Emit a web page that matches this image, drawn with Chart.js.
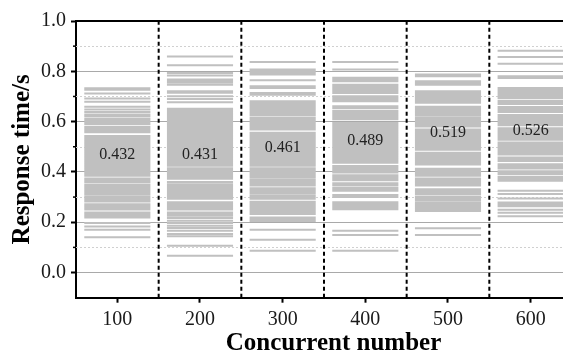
<!DOCTYPE html>
<html><head><meta charset="utf-8">
<script src="https://cdn.jsdelivr.net/npm/chart.js@4"></script>
<style>
html,body{margin:0;padding:0;overflow:hidden;background:#fff;width:563px;height:354px}
#wrap{width:600px;height:354px}
</style></head>
<body><div id="wrap"><canvas id="c" width="600" height="354"></canvas></div>
<script>
const categories = [100, 200, 300, 400, 500, 600];
const meanValues = [0.432, 0.431, 0.461, 0.489, 0.519, 0.526];
const yTicks = [0.0, 0.2, 0.4, 0.6, 0.8, 1.0];
const yMinorTicks = [0.1, 0.3, 0.5, 0.7, 0.9];
const separators = [150, 250, 350, 450, 550];

const times100 = [0.733,0.727,0.712,0.692,0.679,0.659,0.648,0.638,0.628,0.621,0.611,0.604,0.597,0.591,0.580,0.573,0.566,0.558,0.543,0.536,0.529,0.522,0.515,0.508,0.501,0.494,0.487,0.480,0.473,0.466,0.459,0.452,0.445,0.438,0.431,0.424,0.417,0.410,0.403,0.396,0.389,0.385,0.374,0.367,0.360,0.350,0.343,0.339,0.331,0.324,0.317,0.310,0.301,0.294,0.287,0.282,0.272,0.265,0.258,0.251,0.239,0.232,0.225,0.219,0.197,0.183,0.170,0.140];
const times200 = [0.859,0.824,0.793,0.783,0.767,0.761,0.756,0.747,0.721,0.715,0.701,0.690,0.677,0.651,0.644,0.637,0.630,0.623,0.615,0.608,0.601,0.594,0.587,0.580,0.573,0.566,0.562,0.556,0.550,0.543,0.536,0.529,0.522,0.515,0.508,0.501,0.494,0.487,0.480,0.473,0.466,0.459,0.452,0.445,0.438,0.431,0.425,0.415,0.408,0.401,0.394,0.387,0.380,0.373,0.360,0.351,0.344,0.337,0.330,0.326,0.318,0.311,0.304,0.297,0.293,0.279,0.272,0.265,0.258,0.251,0.239,0.232,0.226,0.217,0.206,0.197,0.186,0.177,0.166,0.153,0.144,0.107,0.067];
const times300 = [0.837,0.807,0.800,0.793,0.787,0.764,0.741,0.734,0.714,0.707,0.681,0.674,0.667,0.660,0.653,0.646,0.639,0.632,0.625,0.615,0.608,0.601,0.594,0.587,0.580,0.573,0.569,0.556,0.549,0.542,0.535,0.528,0.521,0.514,0.507,0.500,0.493,0.486,0.479,0.472,0.465,0.458,0.451,0.444,0.437,0.430,0.425,0.415,0.408,0.401,0.394,0.387,0.380,0.371,0.364,0.357,0.350,0.346,0.335,0.328,0.321,0.314,0.305,0.298,0.293,0.281,0.274,0.267,0.259,0.252,0.245,0.238,0.233,0.219,0.212,0.205,0.170,0.130,0.087];
const times400 = [0.837,0.807,0.774,0.767,0.760,0.747,0.740,0.733,0.727,0.721,0.714,0.701,0.694,0.687,0.681,0.661,0.653,0.642,0.635,0.628,0.621,0.614,0.609,0.595,0.588,0.581,0.576,0.569,0.562,0.555,0.548,0.541,0.534,0.527,0.520,0.513,0.506,0.499,0.492,0.485,0.478,0.471,0.464,0.457,0.450,0.443,0.436,0.424,0.417,0.410,0.403,0.398,0.387,0.380,0.373,0.367,0.355,0.348,0.338,0.331,0.325,0.308,0.300,0.279,0.272,0.265,0.258,0.252,0.166,0.149,0.087];
const times500 = [0.787,0.780,0.760,0.753,0.747,0.721,0.714,0.707,0.700,0.693,0.686,0.679,0.675,0.659,0.652,0.645,0.638,0.631,0.624,0.615,0.608,0.601,0.594,0.587,0.581,0.569,0.562,0.555,0.548,0.541,0.534,0.527,0.520,0.513,0.506,0.499,0.492,0.488,0.476,0.469,0.462,0.455,0.448,0.441,0.434,0.430,0.413,0.406,0.399,0.392,0.385,0.374,0.367,0.360,0.353,0.346,0.331,0.324,0.317,0.312,0.302,0.295,0.288,0.279,0.272,0.266,0.259,0.252,0.245,0.176,0.149];
const times600 = [0.882,0.857,0.830,0.780,0.773,0.734,0.727,0.721,0.714,0.707,0.700,0.694,0.683,0.676,0.670,0.658,0.651,0.644,0.638,0.626,0.619,0.612,0.605,0.598,0.591,0.586,0.574,0.567,0.560,0.553,0.546,0.539,0.532,0.528,0.517,0.510,0.503,0.496,0.489,0.482,0.475,0.469,0.457,0.450,0.443,0.431,0.424,0.417,0.414,0.403,0.396,0.392,0.381,0.374,0.367,0.365,0.325,0.312,0.294,0.278,0.271,0.264,0.250,0.238,0.224];

const series = [times100, times200, times300, times400, times500, times600];
const HALF = 40;

Chart.defaults.font.family = "'Liberation Serif', 'Times New Roman', serif";
Chart.defaults.color = '#1a1a1a';

const datasets = categories.map((cat, i) => ({
  type: 'line',
  data: series[i].flatMap(v => [{x: cat - HALF, y: v}, {x: cat + HALF, y: v}, {x: cat, y: null}]),
  borderColor: 'rgb(192,192,192)',
  borderWidth: 2,
  pointRadius: 0,
  spanGaps: false,
  fill: false,
  tension: 0
}));

const decor = {
  id: 'decor',
  beforeDatasetsDraw(chart) {
    const {ctx, chartArea: a, scales: {y}} = chart;
    ctx.save();
    ctx.strokeStyle = '#d0d0d0';
    ctx.lineWidth = 1;
    ctx.setLineDash([2, 2]);
    yMinorTicks.forEach(v => {
      const py = Math.round(y.getPixelForValue(v)) + 0.5;
      ctx.beginPath(); ctx.moveTo(a.left, py); ctx.lineTo(a.right, py); ctx.stroke();
    });
    ctx.restore();
  },
  afterDatasetsDraw(chart) {
    const {ctx, chartArea: a, scales: {x, y}} = chart;
    ctx.save();
    ctx.strokeStyle = '#000';
    ctx.lineWidth = 2;
    ctx.setLineDash([4, 3]);
    separators.forEach(s => {
      const px = x.getPixelForValue(s);
      ctx.beginPath(); ctx.moveTo(px, a.bottom); ctx.lineTo(px, a.top); ctx.stroke();
    });
    ctx.setLineDash([]);
    ctx.fillStyle = '#222';
    ctx.font = "16px 'Liberation Serif'";
    ctx.textAlign = 'center';
    ctx.textBaseline = 'middle';
    categories.forEach((cat, i) => {
      ctx.fillText(meanValues[i].toFixed(3), x.getPixelForValue(cat), y.getPixelForValue(meanValues[i]) - 9);
    });
    ctx.restore();
  },
  afterDraw(chart) {
    const {ctx, chartArea: a, scales: {y}} = chart;
    ctx.save();
    ctx.strokeStyle = '#000';
    ctx.lineWidth = 2;
    ctx.beginPath(); ctx.moveTo(a.left - 1, a.top); ctx.lineTo(a.right, a.top); ctx.stroke();
    ctx.lineWidth = 1.5;
    yMinorTicks.forEach(v => {
      const py = y.getPixelForValue(v);
      ctx.beginPath(); ctx.moveTo(a.left - 3, py); ctx.lineTo(a.left, py); ctx.stroke();
    });
    ctx.restore();
  }
};

new Chart(document.getElementById('c'), {
  type: 'line',
  data: {datasets},
  options: {
    responsive: false,
    animation: false,
    layout: {padding: {top: 21, right: 9, bottom: 0, left: 0}},
    plugins: {legend: {display: false}, tooltip: {enabled: false}},
    scales: {
      x: {
        type: 'linear',
        min: 50, max: 673,
        afterBuildTicks: s => { s.ticks = categories.map(v => ({value: v})); },
        afterFit: s => { s.height = 56.3; },
        ticks: {font: {size: 20}, color: '#1a1a1a', padding: 5, maxRotation: 0, callback: v => String(v)},
        grid: {drawOnChartArea: false, drawTicks: true, tickLength: 5, tickColor: '#000', tickWidth: 2},
        border: {color: '#000', width: 2},
        title: {display: true, text: 'Concurrent number', font: {size: 25, weight: 'bold', lineHeight: 1}, color: '#000', padding: {top: 0, bottom: -2}}
      },
      y: {
        type: 'linear',
        min: -0.1, max: 1.0,
        afterBuildTicks: s => { s.ticks = yTicks.map(v => ({value: v})); },
        afterFit: s => { s.width = 76; },
        ticks: {font: {size: 20}, color: '#1a1a1a', padding: 5, callback: v => Number(v).toFixed(1)},
        grid: {
          color: c => (c.tick && c.tick.value >= 0.99) ? 'rgba(0,0,0,0)' : '#a9a9a9',
          lineWidth: 1,
          tickLength: 5, tickColor: '#000', tickWidth: 2
        },
        border: {color: '#000', width: 2},
        title: {display: true, text: 'Response time/s', font: {size: 25, weight: 'bold', lineHeight: 1}, color: '#000', padding: {top: 10, bottom: 0}}
      }
    }
  },
  plugins: [decor]
});
</script>
</body></html>
